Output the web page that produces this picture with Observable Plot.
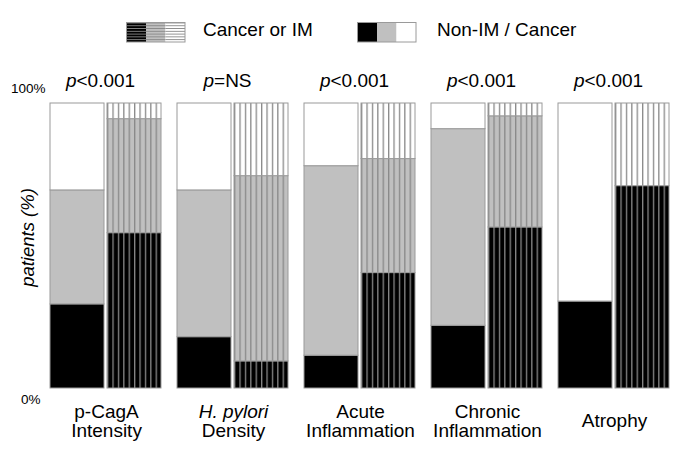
<!DOCTYPE html>
<html>
<head>
<meta charset="utf-8">
<script src="https://cdn.jsdelivr.net/npm/d3@7"></script>
<script src="https://cdn.jsdelivr.net/npm/@observablehq/plot@0.6"></script>
<style>
  body { margin: 0; background: #fff; font-family: "Liberation Sans", Arial, sans-serif; }
  #legend { position: relative; width: 685px; height: 55px; }
  .sw { position: absolute; top: 22px; }
  .lt { position: absolute; top: 20px; font-size: 19px; line-height: 20px; color: #000; white-space: nowrap; }
</style>
</head>
<body>
<div id="legend">
  <svg id="sw1" class="sw" style="left:126px" width="61" height="21"></svg>
  <span class="lt" style="left:203px">Cancer or IM</span>
  <svg id="sw2" class="sw" style="left:357px" width="60" height="21"></svg>
  <span class="lt" style="left:437px">Non-IM / Cancer</span>
</div>
<div id="chart"></div>
<script>
// ---- data (percent of patients, stacked bottom to top: black, gray, white) ----
const groups = ["p-CagA\nIntensity", "H. pylori\nDensity", "Acute\nInflammation", "Chronic\nInflammation", "Atrophy"];
const pValues = ["p<0.001", "p=NS", "p<0.001", "p<0.001", "p<0.001"];
const cohorts = ["Non-IM / Cancer", "Cancer or IM"];
const levels = ["black", "gray", "white"];
const nonBlack = [29.5, 18, 11.5, 22, 30.5];
const nonGray  = [40, 51.5, 66.5, 69, 0];
const nonWhite = [30.5, 30.5, 22, 9, 69.5];
const canBlack = [54.5, 9.5, 40.5, 56.5, 71];
const canGray  = [40, 65, 40, 39, 0];
const canWhite = [5.5, 25.5, 19.5, 4.5, 29];
const yTicksTop = [100];
const yTicksBottom = [0];
const yLabel = "patients (%)";

// ---- styles ----
const GRAY = "#c0c0c0";
const EDGE = "#9a9a9a";
const STRIPE = "#888888";
const baseColor = {black: "#000000", gray: GRAY, white: "#ffffff"};

// ---- build table ----
const rows = [];
groups.forEach((g, i) => {
  [[cohorts[0], [nonBlack, nonGray, nonWhite]], [cohorts[1], [canBlack, canGray, canWhite]]].forEach(([c, arrs]) => {
    levels.forEach((l, j) => {
      const v = arrs[j][i];
      if (v > 0) rows.push({group: g, cohort: c, level: l, key: c + "|" + l, value: v});
    });
  });
});
const keys = [], fills = [];
levels.forEach(l => { keys.push(cohorts[0] + "|" + l); fills.push(baseColor[l]); });
levels.forEach(l => { keys.push(cohorts[1] + "|" + l); fills.push("url(#vstripe-" + l + ")"); });
const pRows = groups.map((g, i) => ({group: g, p: pValues[i]}));
const labelRows = groups.map(g => ({group: g}));

const chart = Plot.plot({
  width: 685,
  height: 394,
  marginTop: 48,
  marginBottom: 61,
  marginLeft: 48,
  marginRight: 12,
  style: {fontFamily: "Liberation Sans, Arial, sans-serif", background: "white", color: "black"},
  fx: {domain: groups, paddingInner: 0.117, paddingOuter: 0, axis: null, label: null},
  x: {domain: cohorts, paddingInner: 0.052, paddingOuter: 0, axis: null, label: null},
  y: {domain: [0, 100], label: null},
  color: {type: "ordinal", domain: keys, range: fills},
  marks: [
    Plot.barY(rows, {fx: "group", x: "cohort", y: "value", fill: "key", stroke: EDGE, strokeWidth: 1}),
    Plot.axisY({ticks: yTicksTop, tickFormat: d => d + "%", tickSize: 0, tickPadding: 5, dy: -15, fontSize: 13.5, label: null}),
    Plot.axisY({ticks: yTicksBottom, tickFormat: d => d + "%", tickSize: 0, tickPadding: 10, dy: 10.7, fontSize: 13.5, label: null}),
    Plot.text(pRows, {fx: "group", text: "p", frameAnchor: "top", lineAnchor: "middle", dy: -22.4, dx: -6, fontSize: 19}),
    Plot.text(labelRows, {fx: "group", text: "group", frameAnchor: "bottom", lineAnchor: "middle", dy: 32.5, fontSize: 19, lineHeight: 1.0}),
    Plot.text([{group: groups[0]}], {fx: "group", text: () => yLabel, frameAnchor: "left", textAnchor: "middle", lineAnchor: "middle", rotate: -90, dx: -22.5, dy: -8.5, fontSize: 18.5, fontStyle: "italic"})
  ]
});
document.getElementById("chart").appendChild(chart);

// ---- patterns for the striped (Cancer or IM) bars ----
const svg = d3.select(chart.tagName.toLowerCase() === "svg" ? chart : chart.querySelector("svg"));
const defs = svg.insert("defs", ":first-child");
levels.forEach(l => {
  const p = defs.append("pattern").attr("id", "vstripe-" + l)
    .attr("patternUnits", "objectBoundingBox").attr("patternContentUnits", "objectBoundingBox")
    .attr("width", 0.1).attr("height", 1);
  p.append("rect").attr("width", 0.1).attr("height", 1).attr("fill", baseColor[l]);
  p.append("rect").attr("width", 0.024).attr("height", 1).attr("fill", STRIPE);
});

// italic "p" in p-values, italic "H. pylori"
svg.selectAll("text").each(function () {
  const t = this.textContent;
  if (/^p[<=]/.test(t) && this.children.length === 0) {
    const el = d3.select(this);
    el.text(null);
    el.append("tspan").attr("font-style", "italic").text("p");
    el.append("tspan").text(t.slice(1));
  }
});
svg.selectAll("tspan").filter(function () { return this.textContent === "H. pylori"; }).attr("font-style", "italic");

// ---- legend swatches ----
function drawSwatch(sel, striped) {
  const s = d3.select(sel);
  const w = 19.5, h = 19.5;
  if (striped) {
    const d = s.append("defs");
    levels.forEach(l => {
      const p = d.append("pattern").attr("id", "hstripe-" + l).attr("patternUnits", "userSpaceOnUse")
        .attr("width", 6).attr("height", 2.78).attr("y", 0.5);
      p.append("rect").attr("width", 6).attr("height", 2.78).attr("fill", baseColor[l]);
      p.append("rect").attr("width", 6).attr("height", 0.9).attr("fill", STRIPE);
    });
  }
  levels.forEach((l, j) => {
    s.append("rect").attr("x", 0.5 + j * w).attr("y", 0.5).attr("width", w).attr("height", h)
      .attr("fill", striped ? "url(#hstripe-" + l + ")" : baseColor[l]);
  });
  s.append("rect").attr("x", 0.5).attr("y", 0.5).attr("width", 3 * w).attr("height", h)
    .attr("fill", "none").attr("stroke", EDGE).attr("stroke-width", 1);
}
drawSwatch("#sw1", true);
drawSwatch("#sw2", false);
</script>
</body>
</html>
